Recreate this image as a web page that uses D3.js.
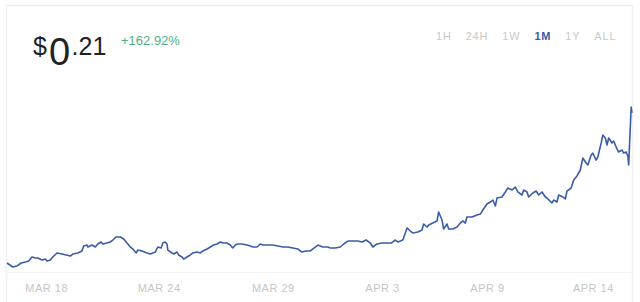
<!DOCTYPE html>
<html>
<head>
<meta charset="utf-8">
<script src="https://cdn.jsdelivr.net/npm/d3@7"></script>
<style>
  body { margin: 0; background: #fff; font-family: "Liberation Sans", Arial, sans-serif; }
  svg { display: block; }
</style>
</head>
<body>
<main></main>
<script>
// price series, hours since start of the 1M window
const hours = [
  0,7,12,17,22,26,30,34,37,42,46,48,52,55,60,66,71,76,79,85,90,92,96,97,102,106,109,113,115,120,124,127,131,136,140,144,148,151,155,157,162,168,
  172,178,181,185,187,190,192,193,198,200,204,206,210,212,216,220,223,228,232,235,240,244,248,252,256,259,264,268,271,274,277,282,288,292,295,300,304,307,313,319,325,331,337,343,349,354,358,364,370,373,379,
  385,388,394,400,404,409,415,421,426,431,436,439,444,450,456,461,466,469,475,478,480,484,487,493,498,500,504,506,511,516,518,522,524,528,530,535,540,544,547,550,552,558,564,
  568,571,576,580,583,586,588,594,598,601,606,610,613,618,620,624,626,631,635,638,642,646,649,654,656,660,662,667,670,672,677,680,684,688,691,695,697,701,703,707,709,713,715,718,720,722,726,728,732,734,738,740,743,745,746,749,750
];
const prices = [
  .0808,.0774,.0783,.0808,.0817,.0825,.0860,.0851,.0851,.0834,.0842,.0825,.0834,.0860,.0894,.0885,.0877,.0868,.0885,.0894,.0911,.0954,.0962,.0945,.0962,.0945,.0971,.0988,.0971,.0979,.0988,.1005,.1031,.1031,.1014,.0979,.0945,.0928,.0894,.0919,.0911,.0894,
  .0885,.0902,.0945,.0937,.0979,.0988,.0971,.0919,.0894,.0885,.0902,.0877,.0860,.0842,.0860,.0877,.0894,.0902,.0894,.0911,.0928,.0945,.0962,.0971,.0988,.0979,.0979,.0962,.0937,.0962,.0971,.0971,.0962,.0954,.0945,.0945,.0971,.0962,.0962,.0962,.0954,.0945,.0945,.0937,.0928,.0902,.0911,.0911,.0945,.0962,.0945,
  .0945,.0937,.0937,.0945,.0971,.0996,.0996,.0996,.0988,.1005,.0979,.0945,.0971,.0979,.0979,.0979,.1005,.0988,.1005,.1065,.1108,.1082,.1065,.1073,.1091,.1142,.1116,.1133,.1150,.1168,.1245,.1176,.1099,.1142,.1099,.1099,.1116,.1150,.1168,.1150,.1202,.1202,.1219,
  .1227,.1262,.1313,.1330,.1347,.1296,.1364,.1373,.1416,.1450,.1433,.1458,.1416,.1390,.1433,.1416,.1373,.1407,.1424,.1390,.1416,.1373,.1356,.1322,.1347,.1330,.1390,.1373,.1356,.1424,.1450,.1518,.1553,.1604,.1707,.1664,.1647,.1732,.1749,.1689,.1715,.1835,.1903,.1878,.1818,.1878,.1835,.1852,.1784,.1758,.1775,.1749,.1758,.1724,.1647,.2143,.2092
];
const tickHours = [47, 182, 319, 450, 576, 703];
const tickLabels = ["MAR 18", "MAR 24", "MAR 29", "APR 3", "APR 9", "APR 14"];
const ranges = ["1H", "24H", "1W", "1M", "1Y", "ALL"];
const activeRange = "1M";
const changePct = 162.92;

const width = 640, height = 302;
const data = hours.map((h, i) => ({ h: h, p: prices[i] }));

const svg = d3.select("main")
  .append("svg")
  .attr("width", width)
  .attr("height", height);

// card outline
svg.append("rect")
  .attr("x", 6.5)
  .attr("y", 5.5)
  .attr("width", 626)
  .attr("height", 310)
  .attr("fill", "#fff")
  .attr("stroke", "#f0f0f0")
  .attr("stroke-width", 1.5);

const xScale = d3.scaleLinear()
  .domain([0, 750])
  .range([7, 632]);

const yScale = d3.scaleLinear()
  .domain([0.0774, 0.2143])
  .range([267, 107]);

// baseline under the chart
svg.append("line")
  .attr("x1", 7).attr("x2", 632)
  .attr("y1", 272.5).attr("y2", 272.5)
  .attr("stroke", "#f3f3f3");

const x_axis = d3.axisBottom(xScale)
  .tickValues(tickHours)
  .tickFormat((d, i) => tickLabels[i])
  .tickSize(0);

const gx = svg.append("g")
  .attr("transform", "translate(0,281)")
  .call(x_axis);
gx.select(".domain").remove();
gx.selectAll("text")
  .attr("fill", "#c6c6c6")
  .style("font-family", "'Liberation Sans', Arial, sans-serif")
  .style("font-size", "11px")
  .style("letter-spacing", "0.5px");

const line = d3.line()
  .x(d => xScale(d.h))
  .y(d => yScale(d.p));

svg.append("path")
  .datum(data)
  .attr("fill", "none")
  .attr("stroke", "#3a5ca9")
  .attr("stroke-width", 1.6)
  .attr("stroke-linejoin", "round")
  .attr("d", line);

// price header
const last = prices[prices.length - 1].toFixed(2).split(".");
const head = svg.append("text")
  .attr("x", 33)
  .attr("y", 55)
  .attr("fill", "#222");
head.append("tspan").style("font-size", "25px").text("$");
head.append("tspan").attr("dy", 9.5).attr("dx", 2).style("font-size", "38px").text(last[0]);
head.append("tspan").attr("dy", -9.5).attr("dx", 1.5).style("font-size", "25px").text("." + last[1]);

svg.append("text")
  .attr("x", 121)
  .attr("y", 45)
  .attr("fill", "#4fb083")
  .style("font-size", "13px")
  .text("+" + changePct.toFixed(2) + "%");

// range selector
let bx = 436;
ranges.forEach(r => {
  const t = svg.append("text")
    .attr("x", bx)
    .attr("y", 40)
    .attr("fill", r === activeRange ? "#3a5ca9" : "#c9c9c9")
    .style("font-size", "11px")
    .style("font-weight", r === activeRange ? "bold" : "normal")
    .style("letter-spacing", "0.8px")
    .text(r);
  bx += t.node().getComputedTextLength() + 14;
});
</script>
</body>
</html>
